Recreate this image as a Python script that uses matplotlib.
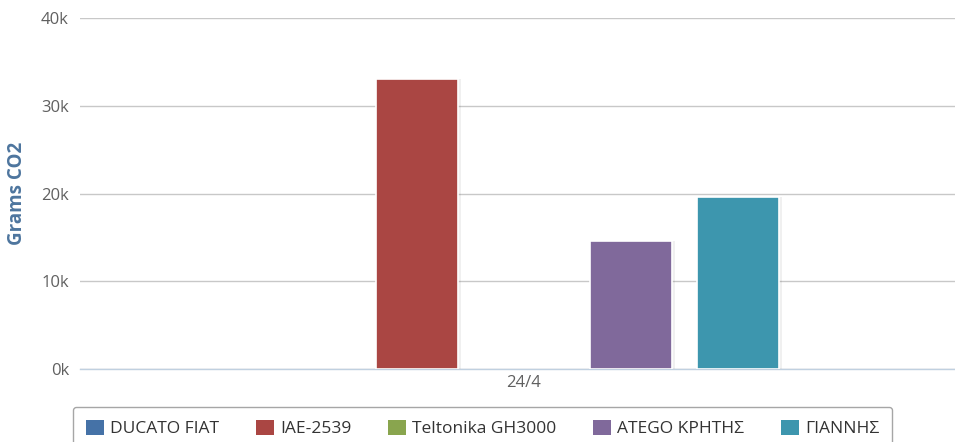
import numpy as np
import matplotlib
matplotlib.use('Agg')
import matplotlib.pyplot as plt
from matplotlib.patches import Patch

plt.rcParams['font.family'] = ['Open Sans', 'DejaVu Sans']

# Data
categories = ['24/4']
series_names = ['DUCATO FIAT', 'IAE-2539', 'Teltonika GH3000', 'ATEGO ΚΡΗΤΗΣ', 'ΓΙΑΝΝΗΣ']
series_values = [0, 33000, 0, 14600, 19600]
colors = ['#4572A7', '#AA4643', '#89A54E', '#80699B', '#3D96AE']
y_ticks = [0, 10000, 20000, 30000, 40000]
y_labels = ['0k', '10k', '20k', '30k', '40k']

W, H = 955, 442
fig = plt.figure(figsize=(W / 100, H / 100), dpi=100)
ax = fig.add_axes([80 / W, (H - 369) / H, 875 / W, (369 - 18) / H])

# Bars, one slot per series inside the single category
n = len(series_names)
offsets = np.arange(n) - (n - 1) / 2
for i, (name, val) in enumerate(zip(series_names, series_values)):
    lw = 1.2 if val > 0 else 0
    if val > 0:
        # faint shadow
        ax.bar(offsets[i] + 0.03, val, width=0.77, color='#000000', alpha=0.06,
               zorder=2)
    ax.bar(offsets[i], val, width=0.77, color=colors[i], edgecolor='white',
           linewidth=lw, zorder=3, label=name)

ax.set_xlim(-444 / 107, 431 / 107)
ax.set_ylim(0, 40000)
ax.set_xticks([0])
ax.set_xticklabels(categories, fontsize=12, color='#606060')
ax.set_yticks(y_ticks)
ax.set_yticklabels(y_labels, fontsize=12, color='#606060')
ax.tick_params(axis='both', length=0, pad=8)
ax.tick_params(axis='x', pad=4)

ax.grid(axis='y', color='#C8C8C8', linewidth=1, zorder=0)
for s in ['top', 'right', 'left']:
    ax.spines[s].set_visible(False)
ax.spines['bottom'].set_color('#C0D0E0')
ax.spines['bottom'].set_linewidth(1)

ax.set_ylabel('Grams CO2', fontsize=13.5, fontweight='bold', color='#4D759E',
              labelpad=10)

handles = [Patch(facecolor=c, edgecolor='none') for c in colors]
leg = fig.legend(handles, series_names, loc='upper left',
                 bbox_to_anchor=(73 / W, 35 / H), ncol=5, fontsize=12.5,
                 frameon=True, fancybox=True, edgecolor='#909090',
                 handlelength=1.05, handleheight=0.95, handletextpad=0.35,
                 columnspacing=2.1, borderpad=0.75, borderaxespad=0)
leg.get_frame().set_linewidth(1)
for t in leg.get_texts():
    t.set_color('#333333')

fig.savefig('out.png', dpi=100)
